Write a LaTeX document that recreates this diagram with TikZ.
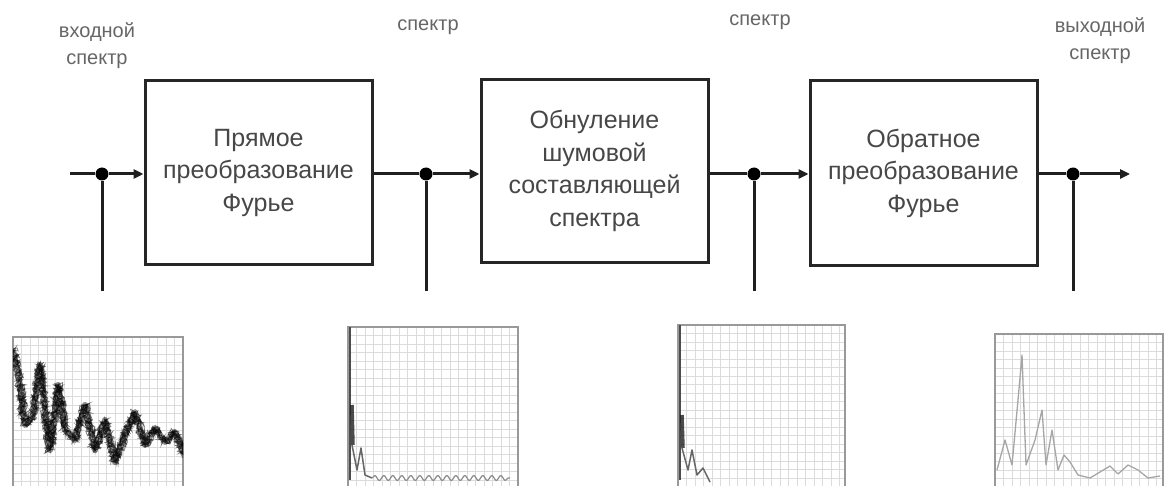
\documentclass[tikz,border=0pt]{standalone}
\usepackage{fontspec}
\setmainfont{Liberation Sans}
\usetikzlibrary{arrows.meta,decorations.pathmorphing,decorations.pathreplacing}
\tikzset{
  wire/.style={line width=3pt, draw=black!88},
  arr/.style={wire, -{Triangle[length=10pt,width=9pt]}},
  blk/.style={draw=black!85, line width=3pt, align=center, text=black!72,
    font=\fontsize{25}{32.5}\selectfont, inner sep=0pt},
  dot/.style={circle, fill=black, inner sep=0pt, minimum size=13pt},
  lbl/.style={align=center, text=black!60, font=\fontsize{20}{27}\selectfont},
  gridl/.style={draw=black!14, line width=0.6pt},
  frame/.style={draw=black!40, line width=1.2pt},
  noisy/.style={draw=black, line width=0.8pt, opacity=0.5, decorate,
    decoration={random steps, segment length=1.3pt, amplitude=5pt}},
  faint/.style={draw=black!35, line width=1.3pt, line join=round},
}
\begin{document}
\begin{tikzpicture}[x=1pt,y=-1pt]
\useasboundingbox[fill=white] (0,0) rectangle (1166,486);

% blocks
\node[blk, minimum width=227pt, minimum height=183pt] (b1) at (258.5,172.5)
  {Прямое\\преобразование\\Фурье};
\node[blk, minimum width=227pt, minimum height=182pt] (b2) at (594.5,171)
  {Обнуление\\шумовой\\составляющей\\спектра};
\node[blk, minimum width=227pt, minimum height=184pt] (b3) at (923.5,173)
  {Обратное\\преобразование\\Фурье};

% taps
\coordinate (s) at (70,174);
\node[dot] (d1) at (102,174) {};
\node[dot] (d2) at (426,174) {};
\node[dot] (d3) at (754,174) {};
\node[dot] (d4) at (1073,174) {};
\coordinate (e) at (1130,174);
\coordinate (t1) at (102,291);
\coordinate (t2) at (426,291);
\coordinate (t3) at (754,291);
\coordinate (t4) at (1073,291);

\draw[wire] (s) -- (d1);
\draw[arr] (d1) -- (b1.west |- d1);
\draw[wire] (b1.east |- d2) -- (d2);
\draw[arr] (d2) -- (b2.west |- d2);
\draw[wire] (b2.east |- d3) -- (d3);
\draw[arr] (d3) -- (b3.west |- d3);
\draw[wire] (b3.east |- d4) -- (d4);
\draw[arr] (d4) -- (e);
\foreach \k in {1,2,3,4} \draw[wire] (d\k) -- (t\k);

% labels
\node[lbl] (l1) at (97,46) {входной\\спектр};
\node[lbl] (l2) at (428,27) {спектр};
\node[lbl] (l3) at (760,22) {спектр};
\node[lbl] (l4) at (1100,41) {выходной\\спектр};

% plot 1
\foreach \i in {0,...,20} \draw[gridl] (13+\i*8.5,337) -- (13+\i*8.5,486);
\foreach \j in {0,...,17} \draw[gridl] (13,337+\j*8.5) -- (183,337+\j*8.5);
\draw[frame] (13,486) -- (13,337) -- (183,337) -- (183,486);
\begin{scope}
\clip (13,337) rectangle (183,486);
\pgfmathsetseed{7}
\draw[draw=black, line width=6pt, opacity=0.45, line join=round] (13,350) -- (20,385) -- (25,425) -- (33,415) -- (40,365) -- (45,410)
  -- (50,450) -- (58,385) -- (65,430) -- (75,440) -- (85,405) -- (95,450)
  -- (105,420) -- (115,462) -- (125,435) -- (135,412) -- (145,445) -- (155,428)
  -- (165,442) -- (175,432) -- (184,455);
\foreach \r in {1,2,3,4}{
\draw[noisy] (13,350) -- (20,385) -- (25,425) -- (33,415) -- (40,365) -- (45,410)
  -- (50,450) -- (58,385) -- (65,430) -- (75,440) -- (85,405) -- (95,450)
  -- (105,420) -- (115,462) -- (125,435) -- (135,412) -- (145,445) -- (155,428)
  -- (165,442) -- (175,432) -- (184,455);
}
\end{scope}

% plot 2
\foreach \i in {0,...,20} \draw[gridl] (348+\i*8.5,327) -- (348+\i*8.5,486);
\foreach \j in {0,...,18} \draw[gridl] (348,327+\j*8.5) -- (518,327+\j*8.5);
\draw[frame] (348,486) -- (348,327) -- (518,327) -- (518,486);
\draw[draw=black!70, line width=2pt] (350,327) -- (350,480);
\draw[draw=black, line width=3.5pt, opacity=0.7] (352,405) -- (353,445);
\draw[faint, draw=black!60, line width=1.5pt] (352,445) -- (357,470) -- (361,448) -- (365,475) -- (372,478);
\draw[faint, draw=black!45, line width=1.2pt, decorate, decoration={snake, amplitude=2.5pt, segment length=9pt}] (372,478) -- (510,478);

% plot 3
\foreach \i in {0,...,19} \draw[gridl] (678+\i*8.5,325) -- (678+\i*8.5,486);
\foreach \j in {0,...,18} \draw[gridl] (678,325+\j*8.5) -- (845,325+\j*8.5);
\draw[frame] (678,486) -- (678,325) -- (845,325) -- (845,486);
\draw[draw=black!70, line width=2pt] (680,325) -- (680,480);
\draw[draw=black, line width=3.5pt, opacity=0.7] (682,415) -- (683,448);
\draw[faint, draw=black!60, line width=1.5pt] (682,448) -- (688,470) -- (692,450) -- (697,475) -- (703,468) -- (710,482);

% plot 4
\foreach \i in {0,...,19} \draw[gridl] (995+\i*8.5,334) -- (995+\i*8.5,486);
\foreach \j in {0,...,17} \draw[gridl] (995,334+\j*8.5) -- (1163,334+\j*8.5);
\draw[frame] (995,486) -- (995,334) -- (1163,334) -- (1163,486);
\draw[faint] (997,470) -- (1005,440) -- (1012,465) -- (1018,400) -- (1022,355)
  -- (1026,465) -- (1035,440) -- (1042,410) -- (1046,465) -- (1052,430)
  -- (1058,470) -- (1064,455) -- (1070,462) -- (1078,475) -- (1090,478)
  -- (1100,472) -- (1110,466) -- (1118,474) -- (1128,465) -- (1138,470)
  -- (1148,478) -- (1160,476);
\end{tikzpicture}
\end{document}
